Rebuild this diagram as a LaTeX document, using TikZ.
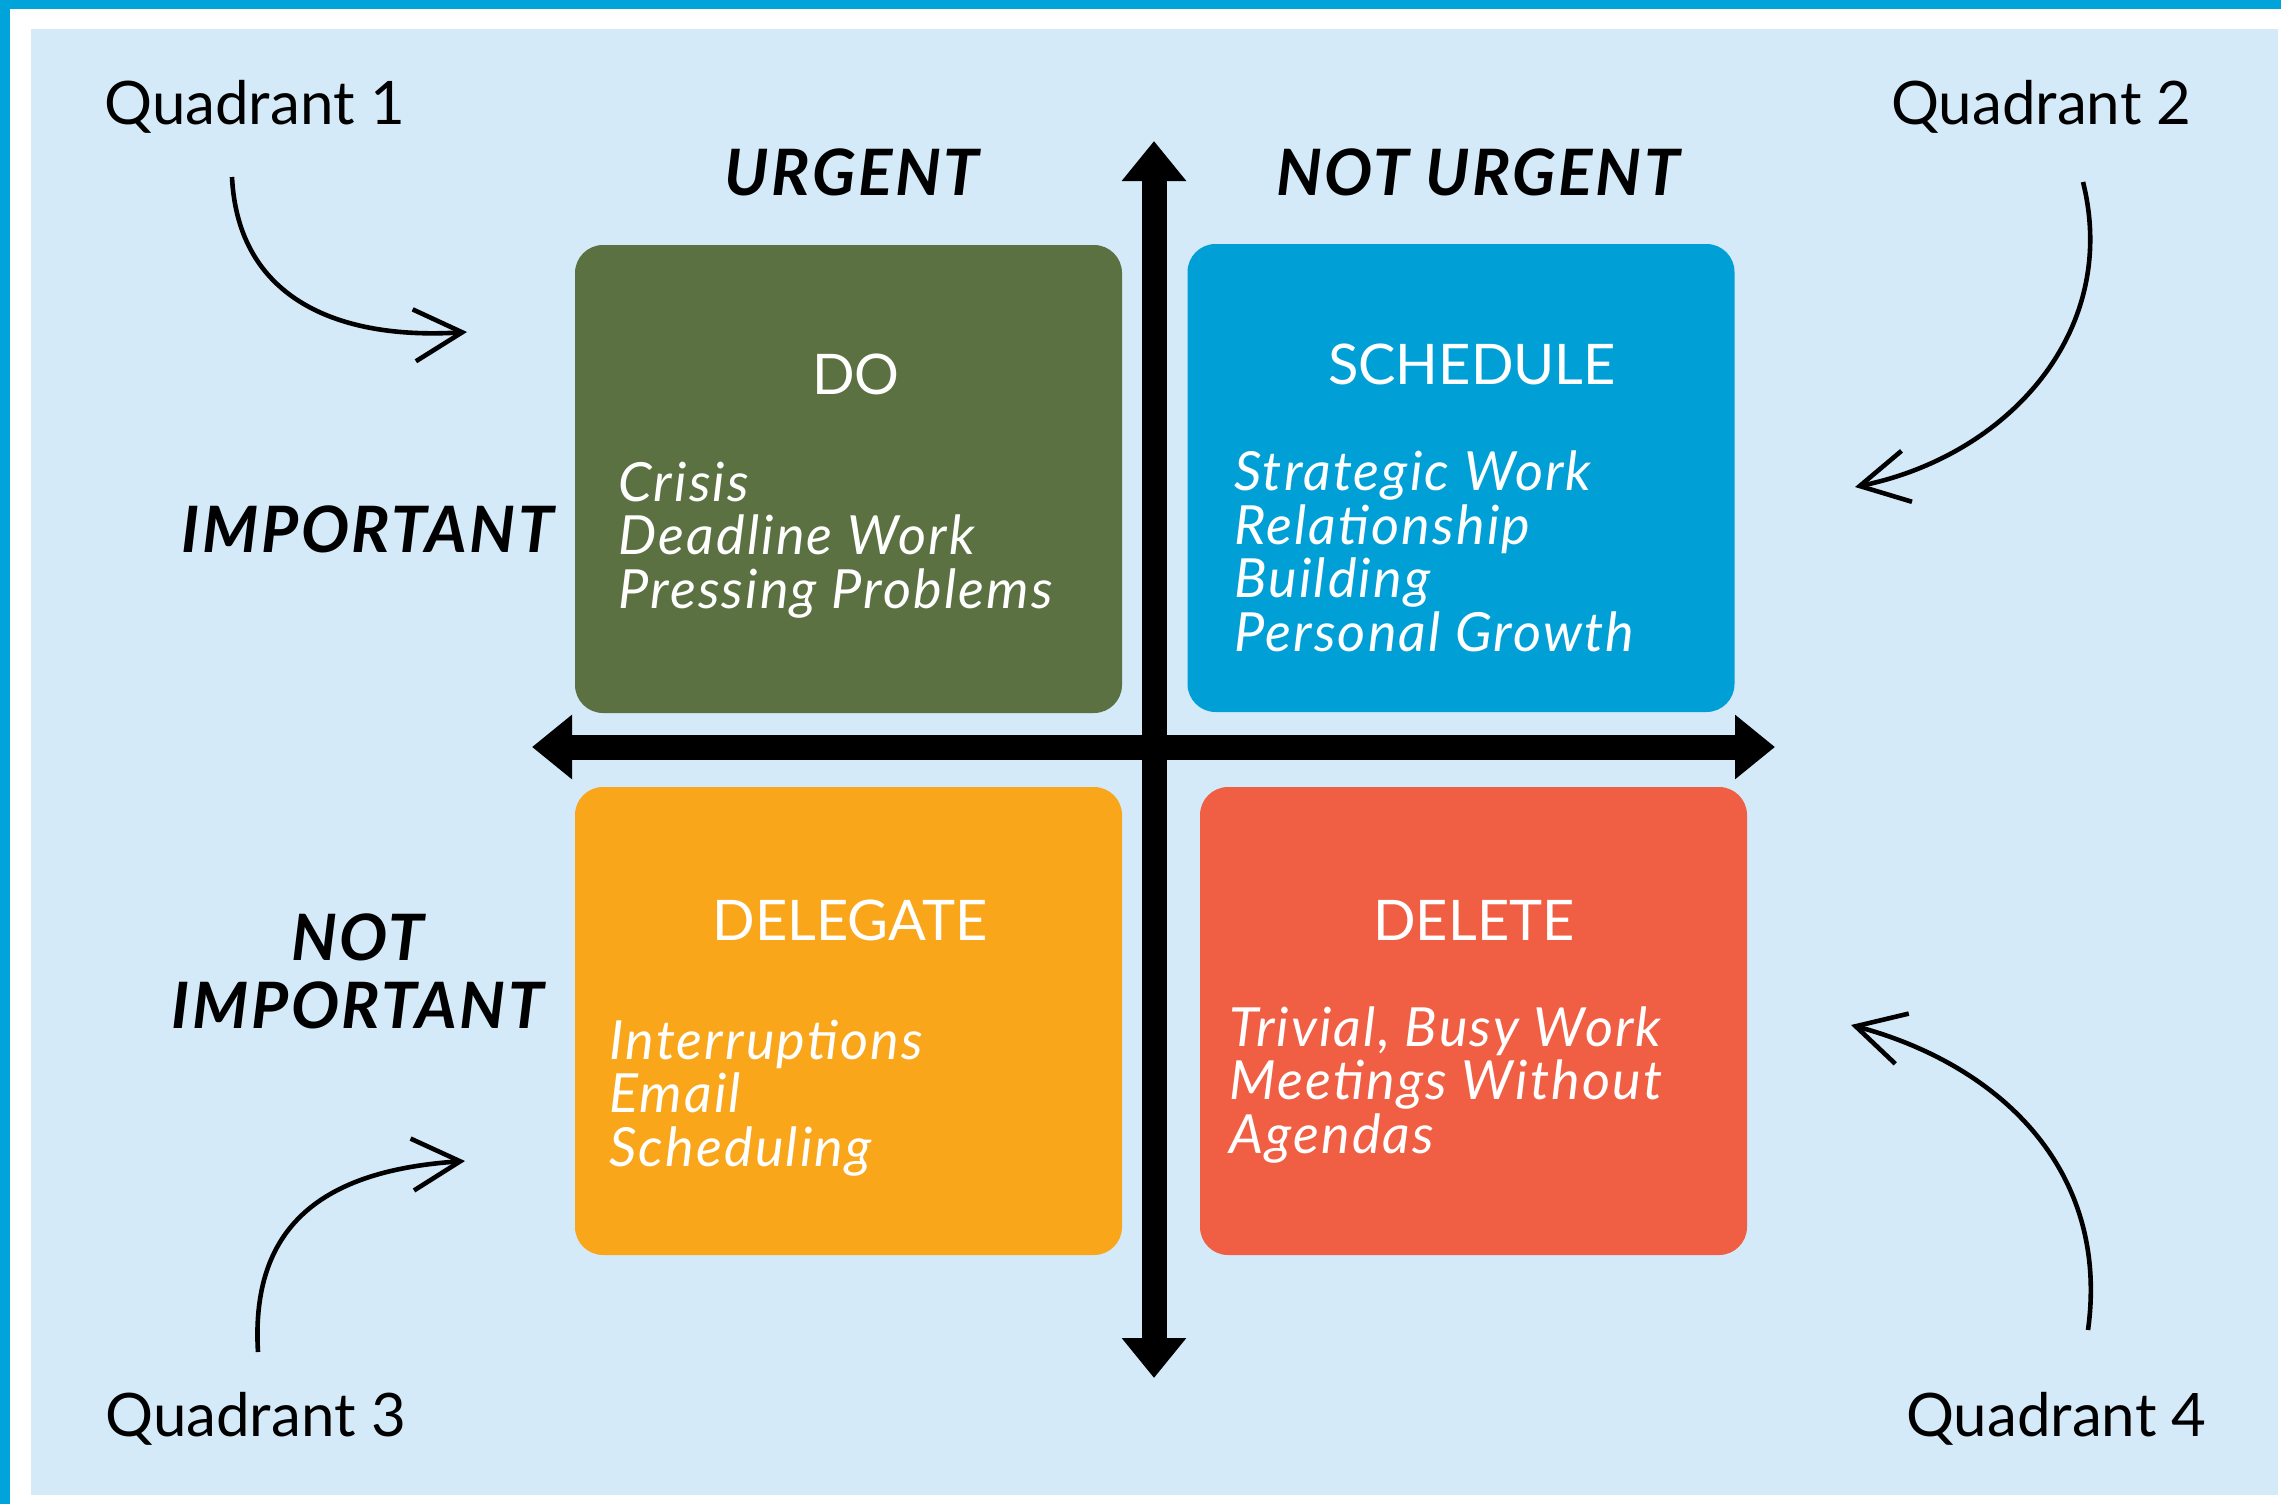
\documentclass[tikz,border=0pt]{standalone}
\usepackage{fontspec}
\setmainfont{Lato}
\usetikzlibrary{arrows.meta}

\definecolor{frameblue}{HTML}{00A3DA}
\definecolor{panelblue}{HTML}{D4EAF8}
\definecolor{dogreen}{HTML}{5B7141}
\definecolor{schedblue}{HTML}{00A0D6}
\definecolor{delegorange}{HTML}{F9A61B}
\definecolor{delred}{HTML}{F05F43}

\tikzset{
  quadbox/.style={rounded corners=14pt, inner sep=0pt, minimum width=273.5pt, minimum height=234pt},
  boxtitle/.style={text=white, font=\fontsize{28}{28}\selectfont, anchor=base, inner sep=0pt},
  boxitems/.style={text=white, font=\fontsize{27}{26.75}\selectfont\itshape\addfontfeatures{LetterSpace=4}, align=left, anchor=base west, inner sep=0pt},
  axislabel/.style={font=\fontsize{32}{34}\selectfont\bfseries\itshape\addfontfeatures{LetterSpace=4}, align=center, anchor=base, inner sep=0pt},
  quadlabel/.style={font=\fontsize{30}{30}\selectfont, inner sep=0pt},
  curvy/.style={line width=2.3pt, -{Straight Barb[length=24pt,width=26pt]}},
  axis/.style={line width=12.5pt, {Triangle[length=20pt,width=31pt]}-{Triangle[length=20pt,width=31pt]}}
}

\begin{document}
\begin{tikzpicture}[x=0.5pt,y=-0.5pt]
% frame and panel
\useasboundingbox (0,0) rectangle (2281,1504);
\fill[frameblue] (0,0) rectangle (2281,1504);
\fill[white] (10,9) rectangle (2281,1504);
\fill[panelblue] (31,29) rectangle (2278,1495);

% the four boxes
\node[quadbox, fill=dogreen] (do) at (848.5,479) {};
\node[quadbox, fill=schedblue] (sched) at (1461,478) {};
\node[quadbox, fill=delegorange] (deleg) at (848.5,1021) {};
\node[quadbox, fill=delred] (del) at (1473.5,1021) {};

\node[boxtitle] (dotitle) at (856,394) {DO};
\node[boxtitle] (schedtitle) at (1472,384) {SCHEDULE};
\node[boxtitle] (delegtitle) at (850,940) {DELEGATE};
\node[boxtitle] (deltitle) at (1474,940) {DELETE};

% items: anchor is the baseline of the last line
\node[boxitems] (doitems) at (618,608) {Crisis\\Deadline Work\\Pressing Problems};
\node[boxitems] (scheditems) at (1234,651) {Strategic Work\\Relationship\\Building\\Personal Growth};
\node[boxitems] (delegitems) at (609,1166) {Interruptions\\Email\\Scheduling};
\node[boxitems] (delitems) at (1229,1153) {Trivial, Busy Work\\Meetings Without\\Agendas};

% axes
\coordinate (ytop) at (1154,141);
\coordinate (ybot) at (1154,1378);
\coordinate (xleft) at (532,747);
\coordinate (xright) at (1775,747);
\draw[axis] (ytop) -- (ybot);
\draw[axis] (xleft) -- (xright);

\node[axislabel] (urgent) at (852,195) {URGENT};
\node[axislabel] (noturgent) at (1478,195) {NOT URGENT};
\node[axislabel] (important) at (368,552) {IMPORTANT};
\node[axislabel] (notimportant) at (358,1028) {NOT\\IMPORTANT};

% quadrant labels and their arrows
\node[quadlabel, anchor=base west] (q1) at (104,125) {Quadrant 1};
\node[quadlabel, anchor=base east] (q2) at (2192,125) {Quadrant 2};
\node[quadlabel, anchor=base west] (q3) at (105,1436) {Quadrant 3};
\node[quadlabel, anchor=base east] (q4) at (2207,1436) {Quadrant 4};

\coordinate (q1s) at (232,177);   \coordinate (q1e) at (467,332);
\coordinate (q2s) at (2083,182);  \coordinate (q2e) at (1855,487);
\coordinate (q3s) at (258,1352);  \coordinate (q3e) at (465,1161);
\coordinate (q4s) at (2088,1330); \coordinate (q4e) at (1851,1025);

\draw[curvy] (q1s) .. controls (238,300) and (340,340) .. (q1e);
\draw[curvy] (q2s) .. controls (2120,330) and (2010,455) .. (q2e);
\draw[curvy] (q3s) .. controls (250,1220) and (330,1170) .. (q3e);
\draw[curvy] (q4s) .. controls (2110,1170) and (2000,1065) .. (q4e);
\end{tikzpicture}
\end{document}
